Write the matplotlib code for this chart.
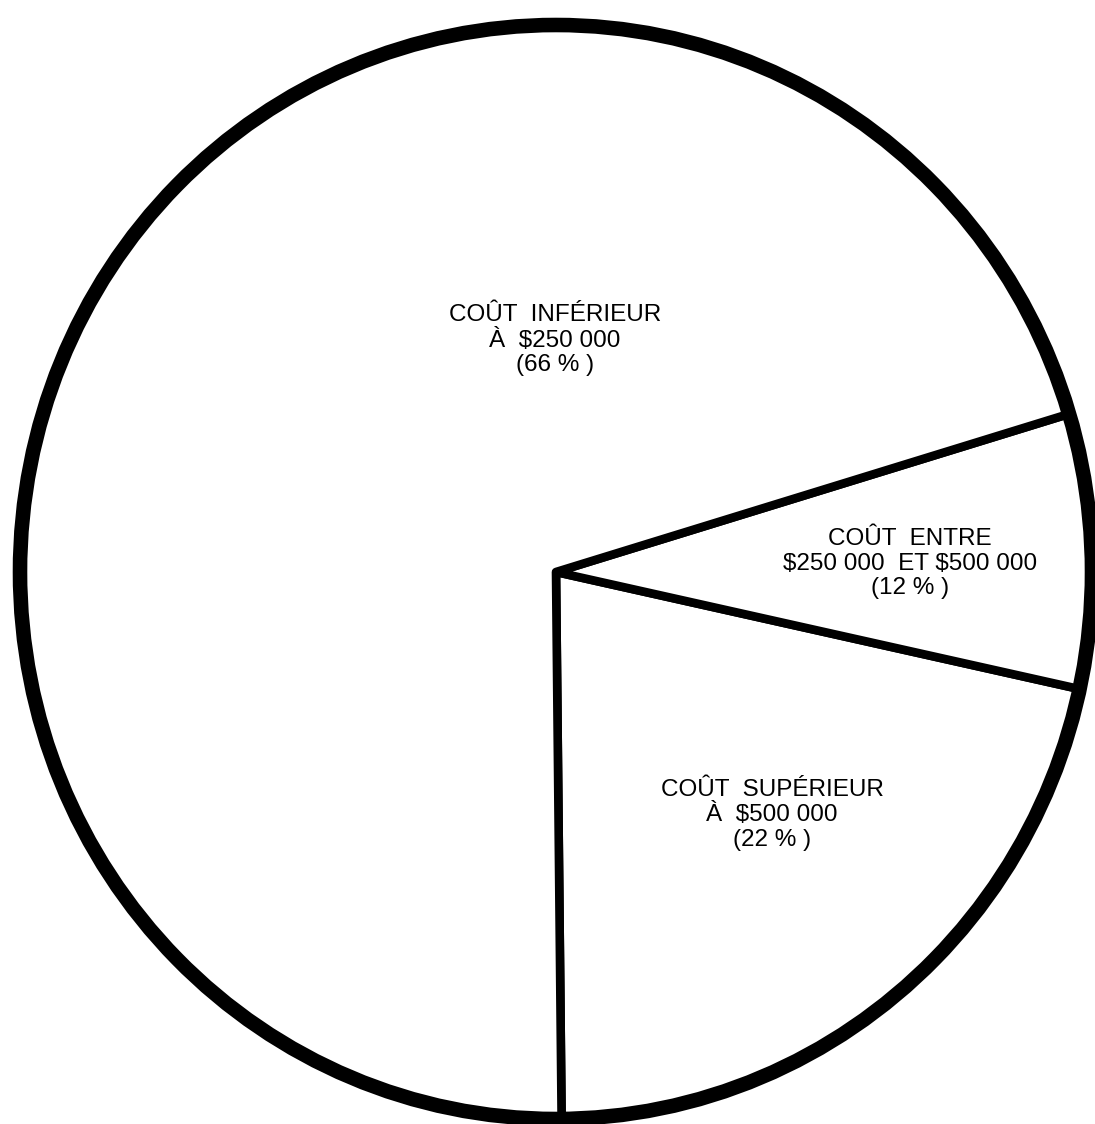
"""Répartition des projets selon le coût — camembert noir et blanc."""

import matplotlib.pyplot as plt
from matplotlib.patches import Ellipse

# categories, counter-clockwise from the bottom
categories = [
    "COÛT  SUPÉRIEUR\nÀ  $500 000",
    "COÛT  ENTRE\n$250 000  ET $500 000",
    "COÛT  INFÉRIEUR\nÀ  $250 000",
]
# printed percentages
pct_labels = [22, 12, 66]
# wedge shares as actually drawn in the source (the drawing is not to scale)
drawn_share = [21.4, 8.1, 70.5]

# layout only: label anchors in axes data units
label_pos = [(0.403, -0.444), (0.660, 0.015), (-0.002, 0.424)]

W, H = 1095, 1124
fig = plt.figure(figsize=(W / 100, H / 100), dpi=100)
fig.patch.set_facecolor("white")

# axes spans the ring centre-line (slightly oval, like the scan)
left, right, top, bottom = 20, 1092, 25, 1119
ax = fig.add_axes([left / W, (H - bottom) / H, (right - left) / W, (bottom - top) / H])

wedges, _ = ax.pie(
    drawn_share,
    startangle=-89.4,
    counterclock=True,
    radius=1.0,
    colors=["white"] * len(drawn_share),
    wedgeprops=dict(edgecolor="black", linewidth=6.2, joinstyle="round"),
)
for w in wedges:
    w.set_clip_on(False)

ring = Ellipse((0, 0), 2, 2, fill=False, edgecolor="black", linewidth=10.5, clip_on=False)
ax.add_patch(ring)

ax.set_aspect("auto")
ax.set_xlim(-1, 1)
ax.set_ylim(-1, 1)
ax.axis("off")

for cat, pct, (x, y) in zip(categories, pct_labels, label_pos):
    ax.text(
        x, y, f"{cat}\n({pct} % )",
        ha="center", va="center", multialignment="center",
        family=["Liberation Sans", "DejaVu Sans"], fontsize=17.5, color="black",
        linespacing=1.15, parse_math=False,
    )

fig.savefig("out.png", dpi=100, facecolor="white")
